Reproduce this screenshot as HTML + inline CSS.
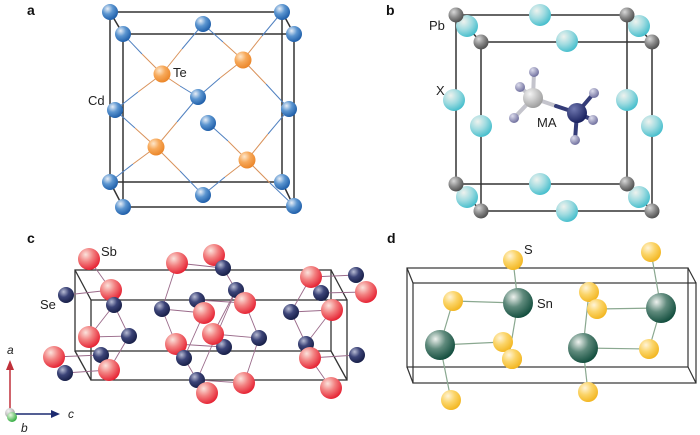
<!DOCTYPE html>
<html><head><style>html,body{margin:0;padding:0;background:#fff}svg{display:block}</style></head><body>
<svg width="700" height="435" viewBox="0 0 700 435" xmlns="http://www.w3.org/2000/svg" font-family="Liberation Sans, sans-serif">
<defs>
<radialGradient id="gBlue" cx="0.35" cy="0.3" r="0.75"><stop offset="0" stop-color="#e8eef6"/><stop offset="0.45" stop-color="#5b95d0"/><stop offset="1" stop-color="#1a5aa6"/></radialGradient>
<radialGradient id="gOr" cx="0.35" cy="0.3" r="0.75"><stop offset="0" stop-color="#fde7cc"/><stop offset="0.45" stop-color="#f7a95a"/><stop offset="1" stop-color="#ea8325"/></radialGradient>
<radialGradient id="gPb" cx="0.35" cy="0.3" r="0.75"><stop offset="0" stop-color="#d8d8d8"/><stop offset="0.5" stop-color="#8a8a8a"/><stop offset="1" stop-color="#4a4a4a"/></radialGradient>
<radialGradient id="gX" cx="0.35" cy="0.3" r="0.75"><stop offset="0" stop-color="#eef2ee"/><stop offset="0.5" stop-color="#9fdbe0"/><stop offset="1" stop-color="#3fbccb"/></radialGradient>
<radialGradient id="gC" cx="0.35" cy="0.3" r="0.75"><stop offset="0" stop-color="#f4f4f4"/><stop offset="1" stop-color="#9a9a9a"/></radialGradient>
<radialGradient id="gN" cx="0.35" cy="0.3" r="0.75"><stop offset="0" stop-color="#7078b0"/><stop offset="1" stop-color="#141c5a"/></radialGradient>
<radialGradient id="gH" cx="0.35" cy="0.3" r="0.75"><stop offset="0" stop-color="#dcdcec"/><stop offset="1" stop-color="#6a6a9a"/></radialGradient>
<radialGradient id="gSb" cx="0.35" cy="0.3" r="0.75"><stop offset="0" stop-color="#fbe3dc"/><stop offset="0.45" stop-color="#f28080"/><stop offset="1" stop-color="#e51c2e"/></radialGradient>
<radialGradient id="gSe" cx="0.35" cy="0.3" r="0.75"><stop offset="0" stop-color="#b8bcd4"/><stop offset="0.45" stop-color="#3c4478"/><stop offset="1" stop-color="#151c44"/></radialGradient>
<radialGradient id="gSn" cx="0.35" cy="0.3" r="0.75"><stop offset="0" stop-color="#eef2ee"/><stop offset="0.45" stop-color="#5f8a7c"/><stop offset="1" stop-color="#0e4a3a"/></radialGradient>
<radialGradient id="gS" cx="0.35" cy="0.3" r="0.75"><stop offset="0" stop-color="#fff4d8"/><stop offset="0.45" stop-color="#fbd56a"/><stop offset="1" stop-color="#f2b41c"/></radialGradient>
<radialGradient id="gG" cx="0.35" cy="0.3" r="0.75"><stop offset="0" stop-color="#e8f8e0"/><stop offset="1" stop-color="#2aa838"/></radialGradient>
</defs>

<!-- labels -->
<g font-weight="bold" font-size="14" fill="#111">
<text x="27" y="15">a</text><text x="386" y="15">b</text><text x="27" y="243">c</text><text x="387" y="243">d</text>
</g>

<!-- Panel a -->
<g stroke="#333" stroke-width="1.5" fill="none">
<rect x="110" y="12" width="172" height="170"/>
<rect x="123" y="34" width="171" height="173"/>
<line x1="110" y1="12" x2="123" y2="34"/><line x1="282" y1="12" x2="294" y2="34"/>
<line x1="110" y1="182" x2="123" y2="207"/><line x1="282" y1="182" x2="294" y2="207"/>
</g>
<g stroke-width="1">
<g stroke="#d9925a">
<line x1="162" y1="74" x2="142" y2="54"/><line x1="162" y1="74" x2="182" y2="49"/><line x1="162" y1="74" x2="138" y2="92"/><line x1="162" y1="74" x2="180" y2="86"/>
<line x1="243" y1="60" x2="223" y2="42"/><line x1="243" y1="60" x2="262" y2="36"/><line x1="243" y1="60" x2="220" y2="78"/><line x1="243" y1="60" x2="266" y2="84"/>
<line x1="156" y1="147" x2="135" y2="128"/><line x1="156" y1="147" x2="177" y2="122"/><line x1="156" y1="147" x2="133" y2="164"/><line x1="156" y1="147" x2="180" y2="171"/>
<line x1="247" y1="160" x2="228" y2="141"/><line x1="247" y1="160" x2="268" y2="134"/><line x1="247" y1="160" x2="225" y2="177"/><line x1="247" y1="160" x2="270" y2="183"/>
</g>
<g stroke="#4f80c0">
<line x1="123" y1="34" x2="142" y2="54"/><line x1="203" y1="24" x2="182" y2="49"/><line x1="115" y1="110" x2="138" y2="92"/><line x1="198" y1="97" x2="180" y2="86"/>
<line x1="203" y1="24" x2="223" y2="42"/><line x1="282" y1="12" x2="262" y2="36"/><line x1="198" y1="97" x2="220" y2="78"/><line x1="289" y1="109" x2="266" y2="84"/>
<line x1="115" y1="110" x2="135" y2="128"/><line x1="198" y1="97" x2="177" y2="122"/><line x1="110" y1="182" x2="133" y2="164"/><line x1="203" y1="195" x2="180" y2="171"/>
<line x1="208" y1="123" x2="228" y2="141"/><line x1="289" y1="109" x2="268" y2="134"/><line x1="203" y1="195" x2="225" y2="177"/><line x1="294" y1="206" x2="270" y2="183"/>
</g>
</g>
<g fill="url(#gBlue)">
<circle cx="110" cy="12" r="8"/><circle cx="282" cy="12" r="8"/><circle cx="203" cy="24" r="8"/>
<circle cx="123" cy="34" r="8"/><circle cx="294" cy="34" r="8"/>
<circle cx="198" cy="97" r="8"/><circle cx="208" cy="123" r="8"/><circle cx="115" cy="110" r="8"/><circle cx="289" cy="109" r="8"/>
<circle cx="110" cy="182" r="8"/><circle cx="282" cy="182" r="8"/><circle cx="203" cy="195" r="8"/>
<circle cx="123" cy="207" r="8"/><circle cx="294" cy="206" r="8"/>
</g>
<g fill="url(#gOr)">
<circle cx="162" cy="74" r="8.5"/><circle cx="243" cy="60" r="8.5"/><circle cx="156" cy="147" r="8.5"/><circle cx="247" cy="160" r="8.5"/>
</g>
<g font-size="13" fill="#222"><text x="173" y="77">Te</text><text x="88" y="105">Cd</text></g>

<!-- Panel b -->
<g stroke="#333" stroke-width="1.5" fill="none">
<rect x="456" y="15" width="171" height="169"/>
<rect x="481" y="42" width="171" height="169"/>
<line x1="456" y1="15" x2="481" y2="42"/><line x1="627" y1="15" x2="652" y2="42"/>
<line x1="456" y1="184" x2="481" y2="211"/><line x1="627" y1="184" x2="652" y2="211"/>
</g>
<g fill="url(#gX)">
<circle cx="540" cy="15" r="11"/><circle cx="467" cy="26" r="11"/><circle cx="639" cy="26" r="11"/>
<circle cx="454" cy="100" r="11"/><circle cx="627" cy="100" r="11"/>
<circle cx="540" cy="184" r="11"/><circle cx="467" cy="197" r="11"/><circle cx="639" cy="197" r="11"/>
</g>
<g fill="url(#gPb)">
<circle cx="456" cy="15" r="7.5"/><circle cx="627" cy="15" r="7.5"/><circle cx="456" cy="184" r="7.5"/><circle cx="627" cy="184" r="7.5"/>
<circle cx="481" cy="42" r="7.5"/><circle cx="652" cy="42" r="7.5"/><circle cx="481" cy="211" r="7.5"/><circle cx="652" cy="211" r="7.5"/>
</g>
<g fill="url(#gX)">
<circle cx="567" cy="41" r="11"/><circle cx="481" cy="126" r="11"/><circle cx="652" cy="126" r="11"/><circle cx="567" cy="211" r="11"/>
</g>
<g stroke-width="4" stroke-linecap="round">
<g stroke="#c4c4cc"><line x1="533" y1="98" x2="534" y2="72"/><line x1="533" y1="98" x2="520" y2="87"/><line x1="533" y1="98" x2="514" y2="118"/><line x1="533" y1="98" x2="556" y2="106"/></g>
<g stroke="#343c78"><line x1="556" y1="106" x2="577" y2="113"/><line x1="577" y1="113" x2="594" y2="93"/><line x1="577" y1="113" x2="593" y2="120"/><line x1="577" y1="113" x2="575" y2="140"/></g>
</g>
<g fill="url(#gH)">
<circle cx="534" cy="72" r="5"/><circle cx="520" cy="87" r="5"/><circle cx="514" cy="118" r="5"/><circle cx="594" cy="93" r="5"/><circle cx="593" cy="120" r="5"/><circle cx="575" cy="140" r="5"/>
</g>
<circle cx="533" cy="98" r="10" fill="url(#gC)"/>
<circle cx="577" cy="113" r="10" fill="url(#gN)"/>
<g font-size="13" fill="#222"><text x="429" y="30">Pb</text><text x="436" y="95">X</text><text x="537" y="127">MA</text></g>

<!-- Panel c -->
<g stroke="#333" stroke-width="1.3" fill="none">
<rect x="75" y="270" width="256" height="81"/>
<rect x="91" y="300" width="256" height="80"/>
<line x1="75" y1="270" x2="91" y2="300"/><line x1="331" y1="270" x2="347" y2="300"/>
<line x1="75" y1="351" x2="91" y2="380"/><line x1="331" y1="351" x2="347" y2="380"/>
</g>
<g stroke="#9a6a8a" stroke-width="0.9">
<line x1="89" y1="259" x2="111" y2="290"/><line x1="66" y1="295" x2="111" y2="290"/><line x1="111" y1="290" x2="114" y2="305"/>
<line x1="114" y1="305" x2="89" y2="337"/><line x1="114" y1="305" x2="129" y2="336"/><line x1="89" y1="337" x2="129" y2="336"/>
<line x1="129" y1="336" x2="109" y2="370"/><line x1="54" y1="357" x2="101" y2="355"/><line x1="65" y1="373" x2="109" y2="370"/><line x1="101" y1="355" x2="109" y2="370"/>
<line x1="177" y1="263" x2="223" y2="268"/><line x1="177" y1="263" x2="162" y2="309"/><line x1="214" y1="255" x2="223" y2="268"/><line x1="223" y1="268" x2="236" y2="290"/>
<line x1="162" y1="309" x2="204" y2="313"/><line x1="162" y1="309" x2="176" y2="344"/><line x1="197" y1="300" x2="245" y2="303"/>
<line x1="236" y1="290" x2="213" y2="334"/><line x1="236" y1="290" x2="197" y2="380"/><line x1="204" y1="313" x2="184" y2="358"/>
<line x1="213" y1="334" x2="259" y2="338"/><line x1="176" y1="344" x2="224" y2="347"/><line x1="245" y1="303" x2="259" y2="338"/>
<line x1="259" y1="338" x2="244" y2="383"/><line x1="197" y1="380" x2="244" y2="383"/><line x1="184" y1="358" x2="197" y2="380"/>
<line x1="311" y1="277" x2="356" y2="275"/><line x1="311" y1="277" x2="291" y2="312"/><line x1="321" y1="293" x2="366" y2="292"/>
<line x1="291" y1="312" x2="332" y2="310"/><line x1="291" y1="312" x2="306" y2="344"/><line x1="332" y1="310" x2="306" y2="344"/>
<line x1="310" y1="358" x2="357" y2="355"/><line x1="310" y1="358" x2="331" y2="388"/>
</g>
<g fill="url(#gSb)">
<circle cx="89" cy="259" r="11"/><circle cx="177" cy="263" r="11"/><circle cx="214" cy="255" r="11"/><circle cx="311" cy="277" r="11"/>
</g>
<g fill="url(#gSe)">
<circle cx="66" cy="295" r="8"/><circle cx="223" cy="268" r="8"/><circle cx="356" cy="275" r="8"/><circle cx="321" cy="293" r="8"/><circle cx="236" cy="290" r="8"/>
<circle cx="197" cy="300" r="8"/><circle cx="162" cy="309" r="8"/><circle cx="291" cy="312" r="8"/>
</g>
<g fill="url(#gSb)">
<circle cx="111" cy="290" r="11"/><circle cx="366" cy="292" r="11"/><circle cx="245" cy="303" r="11"/><circle cx="204" cy="313" r="11"/><circle cx="332" cy="310" r="11"/>
</g>
<g fill="url(#gSe)">
<circle cx="114" cy="305" r="8"/><circle cx="129" cy="336" r="8"/><circle cx="224" cy="347" r="8"/><circle cx="259" cy="338" r="8"/><circle cx="306" cy="344" r="8"/><circle cx="357" cy="355" r="8"/>
</g>
<g fill="url(#gSb)">
<circle cx="89" cy="337" r="11"/><circle cx="213" cy="334" r="11"/><circle cx="176" cy="344" r="11"/><circle cx="54" cy="357" r="11"/>
</g>
<g fill="url(#gSe)">
<circle cx="101" cy="355" r="8"/><circle cx="184" cy="358" r="8"/><circle cx="65" cy="373" r="8"/><circle cx="197" cy="380" r="8"/>
</g>
<g fill="url(#gSb)">
<circle cx="109" cy="370" r="11"/><circle cx="310" cy="358" r="11"/><circle cx="244" cy="383" r="11"/><circle cx="207" cy="393" r="11"/><circle cx="331" cy="388" r="11"/>
</g>
<g font-size="13" fill="#222"><text x="101" y="256">Sb</text><text x="40" y="309">Se</text></g>
<!-- axes -->
<line x1="10" y1="412" x2="10" y2="368" stroke="#c0303a" stroke-width="1.5"/>
<polygon points="10,360 6,370 14,370" fill="#c0303a"/>
<line x1="12" y1="414" x2="52" y2="414" stroke="#1c2a70" stroke-width="1.5"/>
<polygon points="60,414 51,410 51,418" fill="#1c2a70"/>
<circle cx="10" cy="413" r="5" fill="url(#gC)"/>
<circle cx="12" cy="417" r="5" fill="url(#gG)"/>
<g font-size="12" font-style="italic" fill="#222"><text x="7" y="354">a</text><text x="68" y="418">c</text><text x="21" y="432">b</text></g>

<!-- Panel d -->
<g stroke="#333" stroke-width="1.2" fill="none">
<rect x="407" y="268" width="281" height="99"/>
<rect x="413" y="283" width="283" height="100"/>
<line x1="407" y1="268" x2="413" y2="283"/><line x1="688" y1="268" x2="696" y2="283"/>
<line x1="407" y1="367" x2="413" y2="383"/><line x1="688" y1="367" x2="696" y2="383"/>
</g>
<g stroke="#8aa890" stroke-width="1.2">
<line x1="518" y1="303" x2="513" y2="260"/><line x1="518" y1="303" x2="453" y2="301"/><line x1="518" y1="303" x2="510" y2="350"/>
<line x1="440" y1="345" x2="453" y2="301"/><line x1="440" y1="345" x2="503" y2="342"/><line x1="440" y1="345" x2="451" y2="400"/>
<line x1="583" y1="348" x2="589" y2="292"/><line x1="583" y1="348" x2="649" y2="349"/><line x1="583" y1="348" x2="588" y2="392"/>
<line x1="661" y1="308" x2="597" y2="309"/><line x1="661" y1="308" x2="651" y2="252"/><line x1="661" y1="308" x2="649" y2="349"/>
</g>
<g fill="url(#gS)">
<circle cx="513" cy="260" r="10"/><circle cx="651" cy="252" r="10"/><circle cx="453" cy="301" r="10"/><circle cx="589" cy="292" r="10"/><circle cx="597" cy="309" r="10"/>
<circle cx="503" cy="342" r="10"/><circle cx="512" cy="359" r="10"/><circle cx="649" cy="349" r="10"/>
<circle cx="451" cy="400" r="10"/><circle cx="588" cy="392" r="10"/>
</g>
<g fill="url(#gSn)">
<circle cx="518" cy="303" r="15"/><circle cx="440" cy="345" r="15"/><circle cx="583" cy="348" r="15"/><circle cx="661" cy="308" r="15"/>
</g>
<g fill="url(#gS)"><circle cx="512" cy="359" r="10"/></g>
<g font-size="13" fill="#222"><text x="524" y="254">S</text><text x="537" y="308">Sn</text></g>
</svg>
</body></html>
